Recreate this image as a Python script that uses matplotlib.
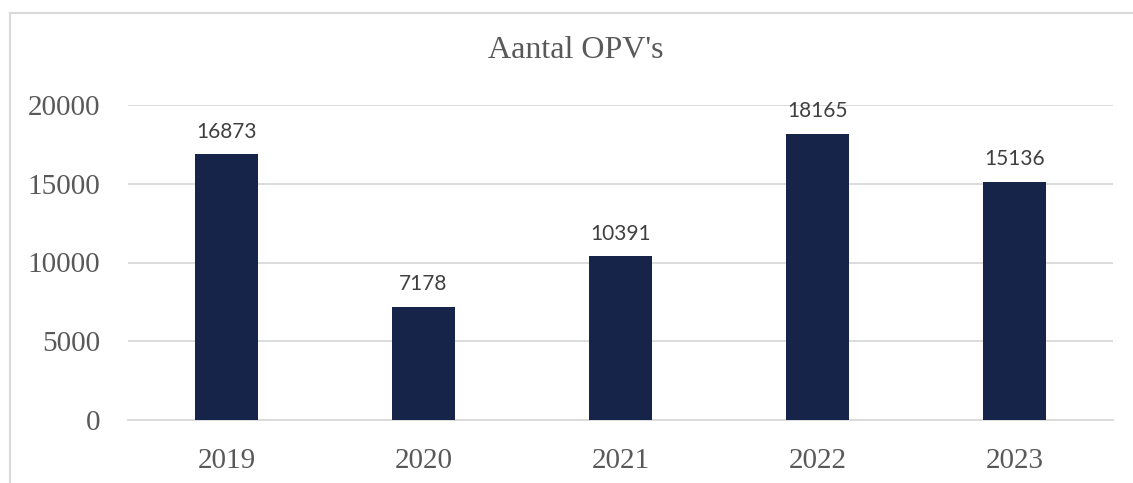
import matplotlib.pyplot as plt
from matplotlib.lines import Line2D

# Datos
jaren = ["2019", "2020", "2021", "2022", "2023"]
aantallen = [16873, 7178, 10391, 18165, 15136]

kleur_balk = "#16244a"
kleur_grijs = "#595959"
kleur_lijn = "#d9d9d9"

fig = plt.figure(figsize=(11.33, 4.83), dpi=100)
ax = fig.add_axes([128 / 1133, 1 - 420 / 483, 985 / 1133, 315 / 483])

posities = range(len(jaren))
balken = ax.bar(posities, aantallen, width=0.315, color=kleur_balk, zorder=3)

# Etiquetas de datos
for x, v in zip(posities, aantallen):
    ax.annotate(str(v), (x, v), xytext=(0, 9), textcoords="offset points",
                ha="center", va="bottom", fontsize=15, color="#404040",
                family=["Lato", "DejaVu Sans"])

ax.set_xlim(-0.5, len(jaren) - 0.5)
ax.set_ylim(0, 20000)
ax.set_yticks([0, 5000, 10000, 15000, 20000])
ax.set_xticks(list(posities))
ax.set_xticklabels(jaren)
ax.yaxis.grid(True, color=kleur_lijn, linewidth=1.3, zorder=0)
ax.set_axisbelow(True)
for s in ["top", "right", "left"]:
    ax.spines[s].set_visible(False)
ax.spines["bottom"].set_color(kleur_lijn)
ax.spines["bottom"].set_linewidth(1.3)
ax.tick_params(axis="both", length=0, labelsize=21, labelcolor=kleur_grijs)
ax.tick_params(axis="y", pad=20)
ax.tick_params(axis="x", pad=20)
for lbl in ax.get_xticklabels() + ax.get_yticklabels():
    lbl.set_family("Liberation Serif")

fig.text(576 / 1133, 1 - 51 / 483, "Aantal OPV's", ha="center", va="center",
         fontsize=23, color=kleur_grijs, family="Liberation Serif")

# Borde del gráfico
fig.add_artist(Line2D([10.5 / 1133, 10.5 / 1133], [0, 1 - 12.5 / 483],
                      color=kleur_lijn, linewidth=1.5, transform=fig.transFigure))
fig.add_artist(Line2D([10.5 / 1133, 1], [1 - 12.5 / 483, 1 - 12.5 / 483],
                      color=kleur_lijn, linewidth=1.5, transform=fig.transFigure))

plt.savefig("out.png", dpi=100)
